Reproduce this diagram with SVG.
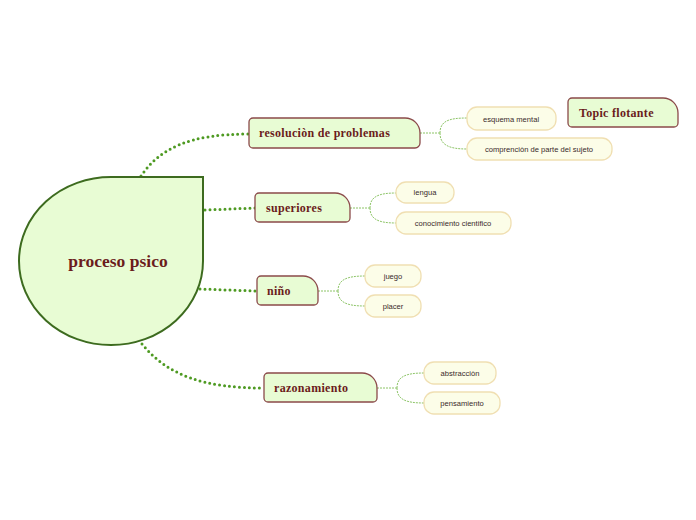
<svg xmlns="http://www.w3.org/2000/svg" width="696" height="520" viewBox="0 0 696 520">
<style>
.main{fill:#e8fcd4;stroke:#3d6b1f;stroke-width:2}
.mt{font-family:"Liberation Serif","DejaVu Serif",serif;font-weight:bold;fill:#6b1c1c}
.br{fill:#e8fcd4;stroke:#8b4a4a;stroke-width:1.3}
.bt{font-family:"Liberation Serif","DejaVu Serif",serif;font-weight:bold;font-size:12px;fill:#6b1c1c;letter-spacing:0.3px}
.sub{fill:#fcfde8;stroke:#f0dfb2;stroke-width:1.3}
.st{font-family:"Liberation Sans Narrow","Liberation Sans",sans-serif;font-size:7.6px;fill:#3a2a2a;text-anchor:middle}
.c1{fill:none;stroke:#4e9a22;stroke-width:3;stroke-dasharray:0 5;stroke-linecap:round}
.c2{fill:none;stroke:#8cc466;stroke-width:1;stroke-dasharray:2 1}
</style>
<g id="connectors">
<path class="c1" d="M141 176 C160 148 190 134 249 134"/>
<path class="c1" d="M205 210 L255 208"/>
<path class="c1" d="M200 289 L257 291"/>
<path class="c1" d="M142 344 C168 376 205 388 264 388"/>
<path class="c2" d="M420 133 L440 133 M440 133 C440 121 449 118 467 118 M440 133 C440 145 449 149 467 149"/>
<path class="c2" d="M350 208 L370 208 M370 208 C370 197 378 193 396 193 M370 208 C370 219 378 223 396 223"/>
<path class="c2" d="M318 291 L338 291 M338 291 C338 280 346 276 365 276 M338 291 C338 302 346 306 365 306"/>
<path class="c2" d="M377 388 L397 388 M397 388 C397 377 405 373 424 373 M397 388 C397 399 405 403 424 403"/>
</g>
<g id="central">
<path class="main" d="M111 177 L203 177 L203 261 A92 84 0 1 1 111 177 Z"/>
<text class="mt" x="118" y="267" font-size="17.5" text-anchor="middle">proceso psico</text>
</g>
<g id="resolucion">
<path class="br" d="M253 118 H405 A15 15 0 0 1 420 133 V143 A5 5 0 0 1 415 148 H253 A4 4 0 0 1 249 144 V122 A4 4 0 0 1 253 118 Z"/>
<text class="bt" x="259" y="137">resoluciòn  de problemas</text>
</g>
<g id="superiores">
<path class="br" d="M259 193 H335 A15 15 0 0 1 350 208 V218 A4 4 0 0 1 346 222 H259 A4 4 0 0 1 255 218 V197 A4 4 0 0 1 259 193 Z"/>
<text class="bt" x="266" y="212">superiores</text>
</g>
<g id="nino">
<path class="br" d="M261 276 H303 A15 15 0 0 1 318 291 V301 A4 4 0 0 1 314 305 H261 A4 4 0 0 1 257 301 V280 A4 4 0 0 1 261 276 Z"/>
<text class="bt" x="267" y="295">niño</text>
</g>
<g id="razonamiento">
<path class="br" d="M268 373 H362 A15 15 0 0 1 377 388 V398 A4 4 0 0 1 373 402 H268 A4 4 0 0 1 264 398 V377 A4 4 0 0 1 268 373 Z"/>
<text class="bt" x="274" y="392">razonamiento</text>
</g>
<g id="topic-flotante">
<path class="br" d="M572 98 H663 A15 15 0 0 1 678 113 V123 A4 4 0 0 1 674 127 H572 A4 4 0 0 1 568 123 V102 A4 4 0 0 1 572 98 Z"/>
<text class="bt" x="579" y="117">Topic flotante</text>
</g>
<g id="esquema">
<rect class="sub" x="467" y="107" width="89" height="23" rx="10"/>
<text class="st" x="511" y="121.5">esquema mental</text>
</g>
<g id="comprencion">
<rect class="sub" x="467" y="138" width="145" height="22" rx="10"/>
<text class="st" x="539" y="151.5">comprenciòn de parte del sujeto</text>
</g>
<g id="lengua">
<rect class="sub" x="396" y="182" width="58" height="21" rx="10"/>
<text class="st" x="425" y="195">lengua</text>
</g>
<g id="conocimiento">
<rect class="sub" x="396" y="212" width="115" height="22" rx="10"/>
<text class="st" x="453" y="225.5">conocimiento cientifico</text>
</g>
<g id="juego">
<rect class="sub" x="365" y="265" width="56" height="22" rx="10"/>
<text class="st" x="393" y="278.5">juego</text>
</g>
<g id="placer">
<rect class="sub" x="365" y="295" width="56" height="22" rx="10"/>
<text class="st" x="393" y="308.5">placer</text>
</g>
<g id="abstraccion">
<rect class="sub" x="424" y="362" width="72" height="22" rx="10"/>
<text class="st" x="460" y="375.5">abstracciòn</text>
</g>
<g id="pensamiento">
<rect class="sub" x="424" y="392" width="76" height="22" rx="10"/>
<text class="st" x="462" y="405.5">pensamiento</text>
</g>
</svg>
